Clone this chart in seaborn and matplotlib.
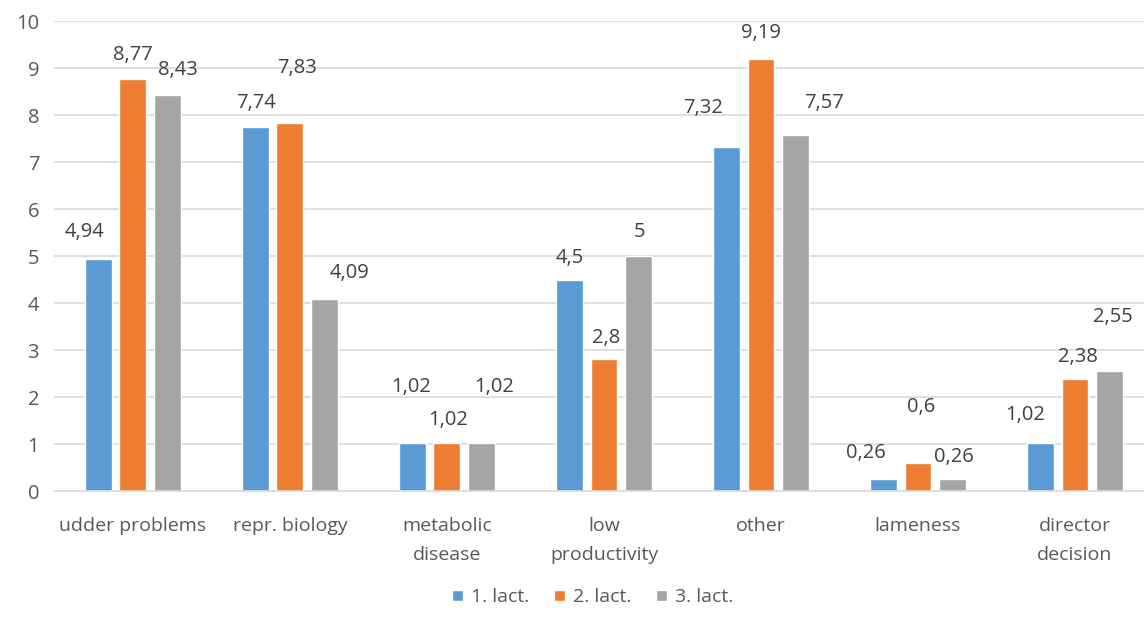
import pandas as pd
import matplotlib.pyplot as plt
import seaborn as sns

# 데이터
categories = ["udder problems", "repr. biology", "metabolic\ndisease", "low\nproductivity",
              "other", "lameness", "director\ndecision"]
series = ["1. lact.", "2. lact.", "3. lact."]
lact1 = [4.94, 7.74, 1.02, 4.5, 7.32, 0.26, 1.02]
lact2 = [8.77, 7.83, 1.02, 2.8, 9.19, 0.6, 2.38]
lact3 = [8.43, 4.09, 1.02, 5.0, 7.57, 0.26, 2.55]
labels1 = ["4,94", "7,74", "1,02", "4,5", "7,32", "0,26", "1,02"]
labels2 = ["8,77", "7,83", "1,02", "2,8", "9,19", "0,6", "2,38"]
labels3 = ["8,43", "4,09", "1,02", "5", "7,57", "0,26", "2,55"]

# 라벨 위치 보정 (픽셀 단위, 막대 상단 기준)
offsets1 = [(-14, 27), (1, 24), (-1, 56), (0, 22), (-23, 39), (-18, 26), (-15, 28)]
offsets2 = [(0, 24), (7, 55), (1, 23), (2, 21), (0, 26), (3, 56), (3, 22)]
offsets3 = [(10, 25), (25, 26), (13, 56), (1, 24), (28, 32), (1, 22), (3, 54)]

colors = ["#5B9BD5", "#ED7D31", "#A5A5A5"]
text_color = "#404040"

df = pd.DataFrame({
    "category": categories * 3,
    "series": [s for s in series for _ in categories],
    "value": lact1 + lact2 + lact3,
})

sns.set_style("white")
plt.rcParams["font.family"] = ["Open Sans", "DejaVu Sans"]

fig = plt.figure(figsize=(11.44, 6.17), dpi=100)
ax = fig.add_axes([0.0476, 0.2042, 0.9607, 0.7617])

sns.barplot(data=df, x="category", y="value", hue="series", palette=colors,
            saturation=1, width=0.66, gap=0.22, ax=ax, legend=True)

ax.set_ylim(0, 10)
ax.set_xlim(-0.5, 6.5)
ax.set_yticks(range(0, 11))
ax.yaxis.grid(True, color="#D9D9D9", linewidth=1.2)
ax.set_axisbelow(True)
for side in ["top", "right", "left"]:
    ax.spines[side].set_visible(False)
ax.spines["bottom"].set_color("#D9D9D9")
ax.spines["bottom"].set_linewidth(1.2)
ax.set_xlabel("")
ax.set_ylabel("")
ax.tick_params(axis="y", length=0, pad=11, labelsize=14.5, labelcolor="#595959")
ax.tick_params(axis="x", length=0, pad=19, labelsize=14, labelcolor="#595959")
for t in ax.get_xticklabels():
    t.set_linespacing(1.75)

all_labels = [labels1, labels2, labels3]
all_offsets = [offsets1, offsets2, offsets3]
for container, labs, offs in zip(ax.containers, all_labels, all_offsets):
    for bar, lab, (dx, dy) in zip(container, labs, offs):
        x = bar.get_x() + bar.get_width() / 2
        y = bar.get_height()
        ax.annotate(lab, (x, y), xytext=(dx, dy), textcoords="offset pixels",
                    ha="center", va="center", fontsize=14.5, color=text_color)

ax.legend(loc="center", bbox_to_anchor=(0.518, 0.032), bbox_transform=fig.transFigure,
          ncol=3, frameon=False, fontsize=14, handlelength=0.55, handleheight=0.55,
          handletextpad=0.4, columnspacing=1.3, labelcolor="#595959")

plt.savefig("out.png", dpi=100)
